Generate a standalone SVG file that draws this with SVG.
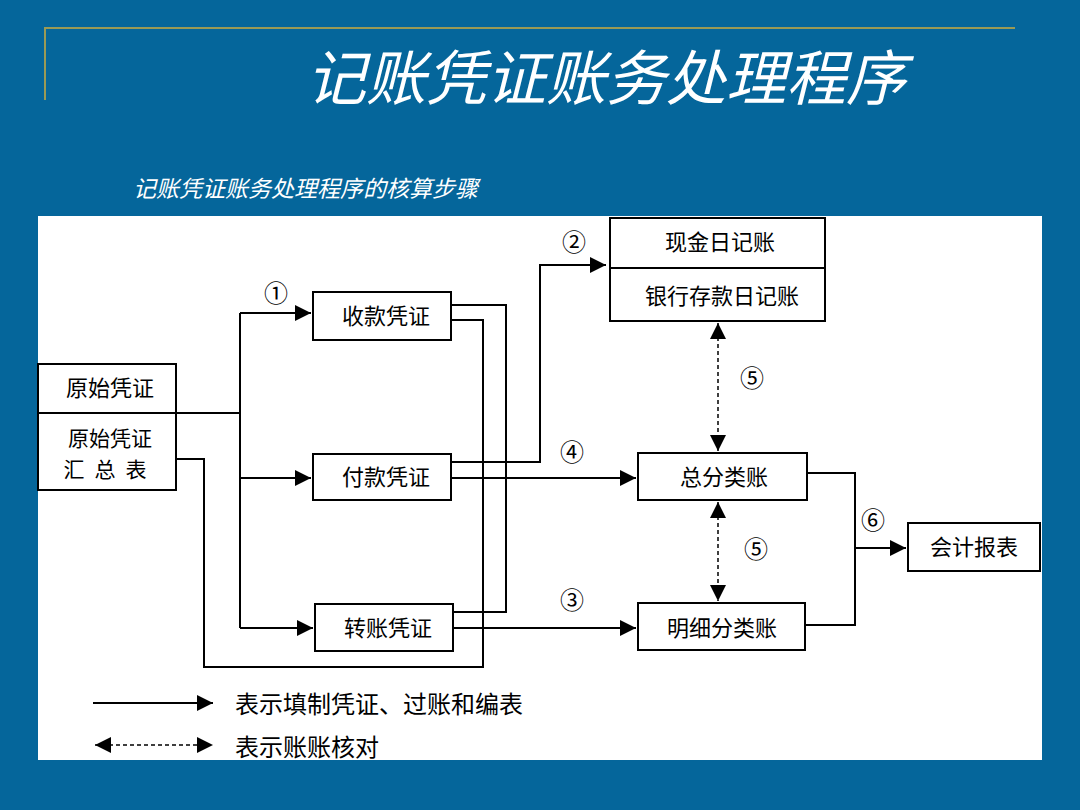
<svg xmlns="http://www.w3.org/2000/svg" width="1080" height="810" viewBox="0 0 1080 810">
<style>
.b{fill:#fff;stroke:#000;stroke-width:2}
.t{font-family:"Noto Sans CJK SC",sans-serif;font-size:22px;fill:#000;text-anchor:middle}
.n{font-family:"DejaVu Serif","Noto Sans CJK SC",serif;font-size:24px;fill:#000;text-anchor:middle}
.l{fill:none;stroke:#000;stroke-width:2}
.d{fill:none;stroke:#000;stroke-width:1.5;stroke-dasharray:4,3}
</style>
<defs>
<marker id="A" viewBox="0 0 10 10" refX="10" refY="5" markerWidth="16" markerHeight="16" orient="auto-start-reverse" markerUnits="userSpaceOnUse"><path d="M0,0L10,5L0,10z" fill="#000"/></marker>
</defs>
<rect width="1080" height="810" fill="#05669B"/>
<path d="M45,100V28H1015" fill="none" stroke="#9a9a55" stroke-width="2"/>
<text x="606" y="100" font-family="Noto Sans CJK SC,sans-serif" font-size="60" font-style="italic" fill="#fff" text-anchor="middle">记账凭证账务处理程序</text>
<text x="133" y="197" font-family="Noto Sans CJK SC,sans-serif" font-size="23" font-style="italic" fill="#fff">记账凭证账务处理程序的核算步骤</text>
<rect x="38" y="216" width="1004" height="544" fill="#fff"/>
<g id="connectors">
<path class="l" d="M176,413H240M240,313V628"/>
<path class="l" d="M240,313H311" marker-end="url(#A)"/>
<path class="l" d="M240,478H311" marker-end="url(#A)"/>
<path class="l" d="M240,628H313" marker-end="url(#A)"/>
<path class="l" d="M176,459H204V667H483V320H451"/>
<path class="l" d="M451,305H506V612H453"/>
<path class="l" d="M451,462H540V265H606" marker-end="url(#A)"/>
<path class="l" d="M451,478H636" marker-end="url(#A)"/>
<path class="l" d="M453,628H636" marker-end="url(#A)"/>
<path class="l" d="M807,473H855V625H805"/>
<path class="l" d="M855,548H906" marker-end="url(#A)"/>
<path class="d" d="M718,323V451" marker-start="url(#A)" marker-end="url(#A)"/>
<path class="d" d="M718,502V601" marker-start="url(#A)" marker-end="url(#A)"/>
<path class="l" d="M93,703H213" marker-end="url(#A)"/>
<path class="d" d="M95,745H213" marker-start="url(#A)" marker-end="url(#A)"/>
</g>
<g id="n-yuanshi"><rect class="b" x="38" y="364" width="138" height="126"/><path class="l" d="M38,413H176"/>
<text class="t" x="110" y="396">原始凭证</text><text class="t" x="110" y="446" style="font-size:21px">原始凭证</text><text class="t" x="110" y="477" style="font-size:21px" letter-spacing="10">汇总表</text></g>
<g id="n-shoukuan"><rect class="b" x="313" y="292" width="138" height="48"/><text class="t" x="386" y="324">收款凭证</text></g>
<g id="n-fukuan"><rect class="b" x="313" y="454" width="138" height="46"/><text class="t" x="386" y="485">付款凭证</text></g>
<g id="n-zhuanzhang"><rect class="b" x="315" y="604" width="138" height="47"/><text class="t" x="388" y="636">转账凭证</text></g>
<g id="n-riji"><rect class="b" x="610" y="218" width="215" height="103"/><path class="l" d="M610,268H825"/>
<text class="t" x="720" y="250">现金日记账</text><text class="t" x="722" y="304">银行存款日记账</text></g>
<g id="n-zongfen"><rect class="b" x="638" y="453" width="169" height="47"/><text class="t" x="724" y="485">总分类账</text></g>
<g id="n-mingxi"><rect class="b" x="638" y="603" width="167" height="47"/><text class="t" x="722" y="636">明细分类账</text></g>
<g id="n-baobiao"><rect class="b" x="908" y="523" width="132" height="48"/><text class="t" x="974" y="555">会计报表</text></g>
<g id="labels">
<text class="n" x="276" y="302">①</text><text class="n" x="574" y="251">②</text>
<text class="n" x="572" y="461">④</text><text class="n" x="572" y="609">③</text>
<text class="n" x="752" y="387">⑤</text><text class="n" x="756" y="558">⑤</text>
<text class="n" x="873" y="529">⑥</text>
<text class="t" x="235" y="713" style="text-anchor:start;font-size:24px">表示填制凭证、过账和编表</text>
<text class="t" x="235" y="756" style="text-anchor:start;font-size:24px">表示账账核对</text>
</g>
</svg>
